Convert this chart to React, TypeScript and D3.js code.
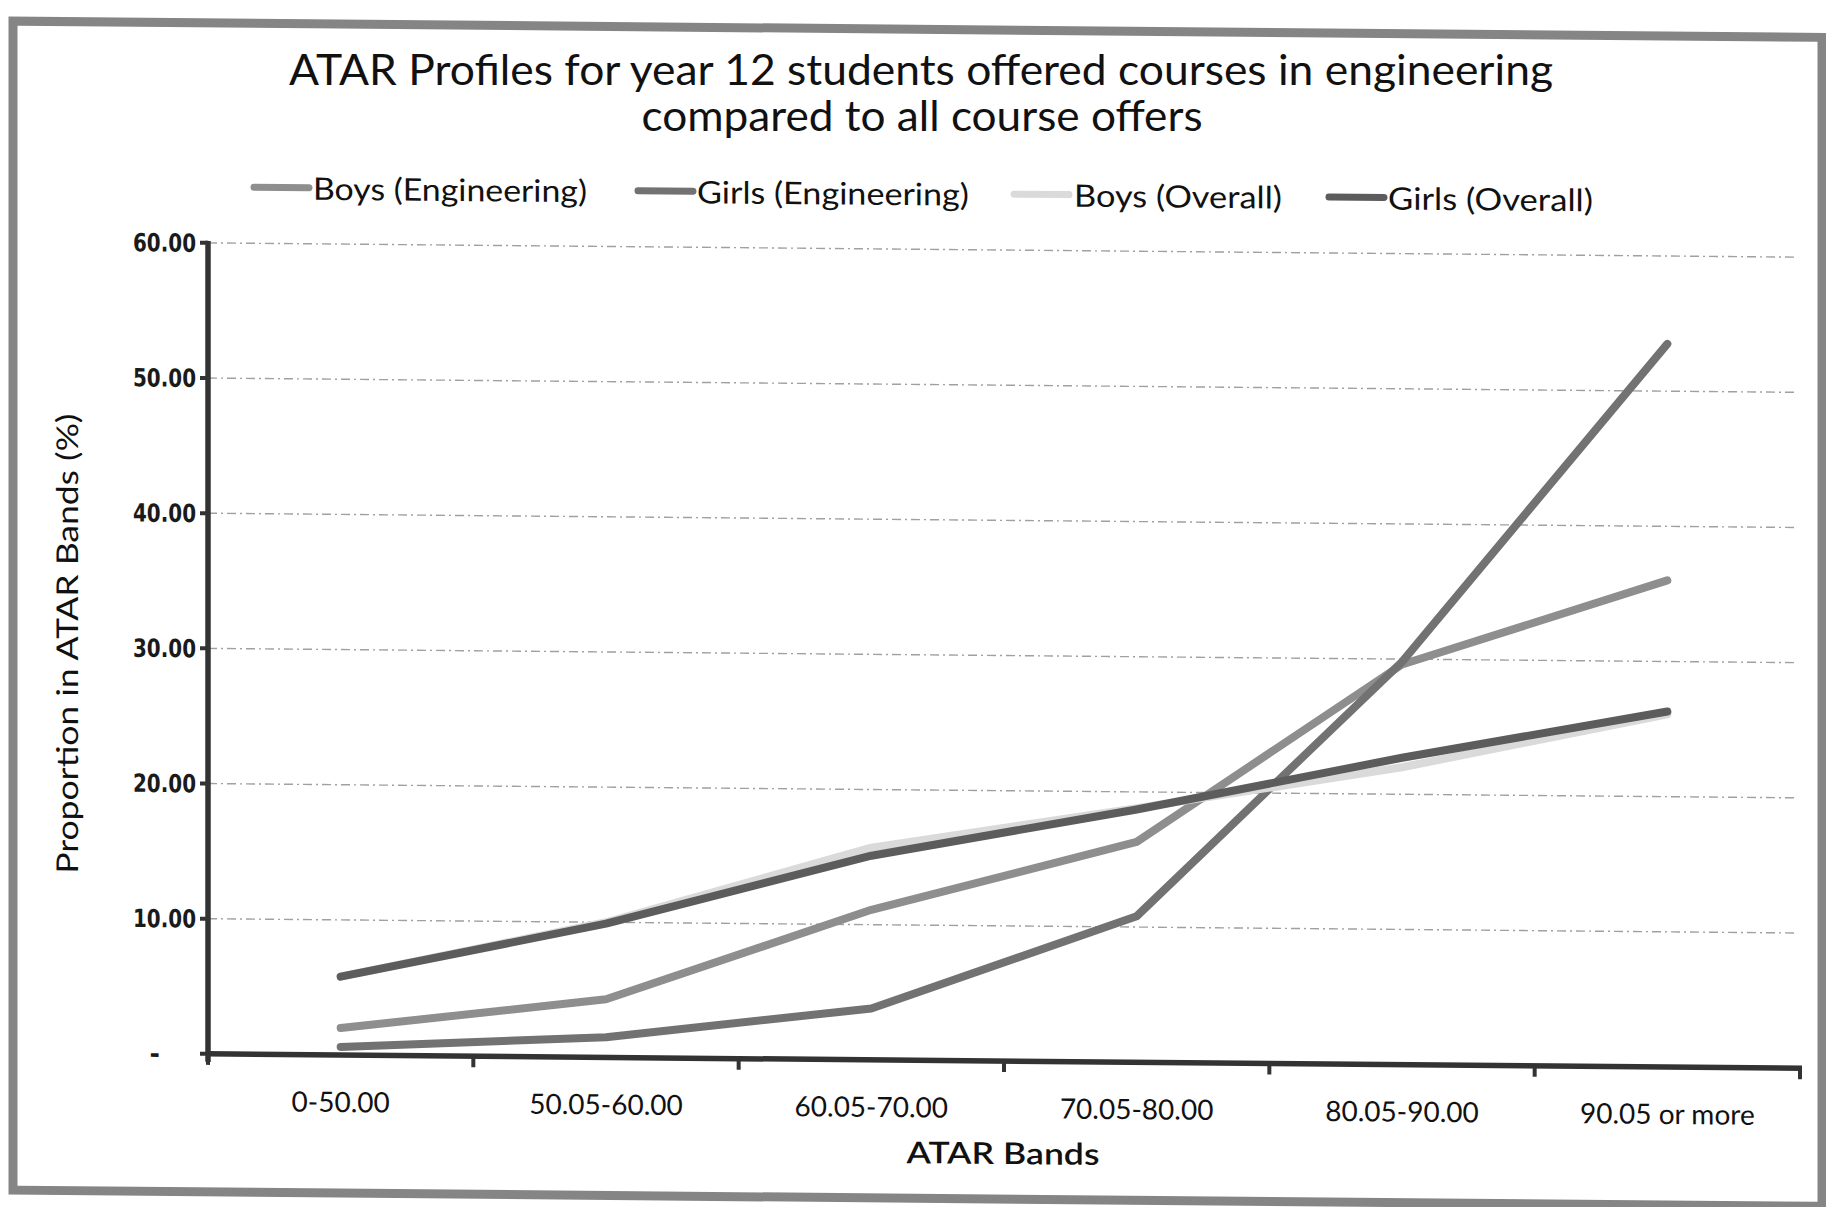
import React from 'react';
import * as d3 from 'd3';

const categories = ["0-50.00", "50.05-60.00", "60.05-70.00", "70.05-80.00", "80.05-90.00", "90.05 or more"];
const boysEngineering = [2.0, 4.3, 11.1, 16.3, 29.6, 36.0];
const girlsEngineering = [0.6, 1.5, 3.8, 10.8, 29.8, 53.5];
const boysOverall = [5.8, 10.0, 15.7, 18.8, 22.0, 26.1];
const girlsOverall = [5.8, 9.9, 15.1, 18.7, 22.7, 26.3];
const yTicks = [0, 10, 20, 30, 40, 50, 60];
const yTickLabels = ["-", "10.00", "20.00", "30.00", "40.00", "50.00", "60.00"];
const seriesNames = ["Boys (Engineering)", "Girls (Engineering)", "Boys (Overall)", "Girls (Overall)"];
const seriesColors = ["#8e8e8e", "#727272", "#dadada", "#5c5c5c"];
const titleLines = ["ATAR Profiles for year 12 students offered courses in engineering", "compared to all course offers"];
const xTitle = "ATAR Bands";
const yTitle = "Proportion in ATAR Bands (%)";

const W = 1826, H = 1207;
const left = 208, right = 1800, bottom = 1052, top = 241;
const skewDeg = Math.atan(0.009) * 180 / Math.PI;

export default function App() {
  const x = d3.scaleBand<string>().domain(categories).range([left, right]).paddingInner(0).paddingOuter(0);
  const y = d3.scaleLinear().domain([0, 60]).range([bottom, top]);
  const cx = (c: string) => (x(c) as number) + x.bandwidth() / 2;
  const seriesData = [boysEngineering, girlsEngineering, boysOverall, girlsOverall];
  const line = d3.line<number>().x((_, i) => cx(categories[i])).y(d => y(d));
  const edges = categories.map(c => x(c) as number).concat([right]);

  const legendItems = [
    { lx: 254, tx: 313, tw: 274 },
    { lx: 638, tx: 697, tw: 272 },
    { lx: 1014, tx: 1074, tw: 208 },
    { lx: 1329, tx: 1388, tw: 205 },
  ];

  const font = "Lato, 'Open Sans', sans-serif";

  return (
    <svg width={W} height={H} style={{ position: 'absolute', left: 0, top: 0, background: '#fff' }}>
      <rect x={0} y={0} width={W} height={H} fill="#fff" />
      <g transform={`skewY(${skewDeg})`}>
        <rect x={13} y={21} width={1809} height={1169} fill="none" stroke="#858585" strokeWidth={9} />
        {/* gridlines */}
        {yTicks.filter(t => t > 0).map(t => (
          <line key={t} x1={left} x2={right - 5} y1={y(t)} y2={y(t)} stroke="#a0a0a0" strokeWidth={1.4} strokeDasharray="9,4,2,4" />
        ))}
        {/* legend */}
        {seriesNames.map((n, i) => (
          <g key={n}>
            <line x1={legendItems[i].lx} x2={legendItems[i].lx + 55} y1={185} y2={185} stroke={seriesColors[i]} strokeWidth={7} strokeLinecap="round" />
            <text x={legendItems[i].tx} y={197} fontFamily={font} fontSize={31} fill="#111" textLength={legendItems[i].tw} lengthAdjust="spacingAndGlyphs">{n}</text>
          </g>
        ))}
        {/* series */}
        {seriesData.map((d, i) => (
          <path key={i} d={line(d) || ''} fill="none" stroke={seriesColors[i]} strokeWidth={8} strokeLinecap="round" strokeLinejoin="round" />
        ))}
        {/* y axis */}
        <line x1={left} x2={left} y1={top - 2} y2={bottom + 8} stroke="#333" strokeWidth={5.5} />
        {yTicks.map(t => (
          <line key={t} x1={left - 8} x2={left} y1={y(t)} y2={y(t)} stroke="#333" strokeWidth={4} />
        ))}
        {yTicks.map((t, i) => (
          <text key={t} x={t === 0 ? 160 : 196} y={y(t) + 9} textAnchor="end" fontFamily="'DejaVu Sans', sans-serif" fontSize={25} fill="#1a1a1a" fontWeight={700}
            textLength={t === 0 ? undefined : 63} lengthAdjust="spacingAndGlyphs">{yTickLabels[i]}</text>
        ))}
        {/* x axis */}
        <line x1={left - 2} x2={right + 2} y1={bottom} y2={bottom} stroke="#333" strokeWidth={5.5} />
        {edges.map((e, i) => (
          <line key={i} x1={e} x2={e} y1={bottom} y2={bottom + 11} stroke="#333" strokeWidth={4} />
        ))}
        {categories.map(c => (
          <text key={c} x={cx(c)} y={1109} textAnchor="middle" fontFamily={font} fontSize={28} fill="#111">{c}</text>
        ))}
        <text x={1003} y={1155} textAnchor="middle" fontFamily={font} fontSize={30} fontWeight={600} fill="#111" textLength={193} lengthAdjust="spacingAndGlyphs">{xTitle}</text>
        <text transform={`translate(78,643) rotate(-90)`} textAnchor="middle" fontFamily={font} fontSize={30} fill="#111" textLength={460} lengthAdjust="spacingAndGlyphs">{yTitle}</text>
      </g>
      {/* title */}
      <text x={921} y={85} textAnchor="middle" fontFamily={font} fontSize={42} fill="#111" textLength={1264} lengthAdjust="spacingAndGlyphs">{titleLines[0]}</text>
      <text x={922} y={131} textAnchor="middle" fontFamily={font} fontSize={42} fill="#111" textLength={561} lengthAdjust="spacingAndGlyphs">{titleLines[1]}</text>
    </svg>
  );
}
